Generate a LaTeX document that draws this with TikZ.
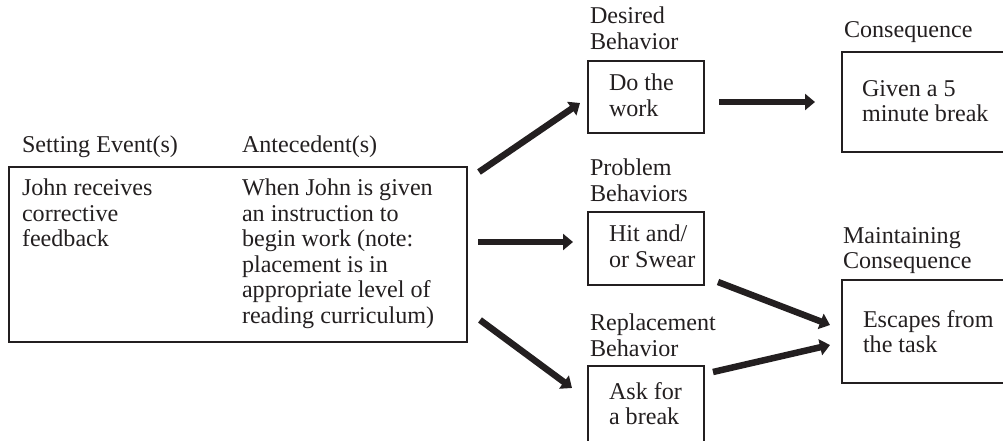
\documentclass[tikz,border=0pt]{standalone}
\usepackage{fontspec}
\setmainfont{Liberation Serif}
\usetikzlibrary{arrows.meta,calc}
\definecolor{ink}{RGB}{35,31,32}
\begin{document}
\begin{tikzpicture}[x=1pt,y=-1pt,
  every node/.style={inner sep=0pt, outer sep=0pt},
  txt/.style={anchor=north west, align=left, text=ink,
    font=\fontsize{24.1}{25.5}\selectfont, execute at begin node=\strut},
  box/.style={draw=ink, line width=1.6pt, anchor=north west},
  arr/.style={draw=ink, line width=6.5pt, -{Triangle[length=10pt,width=16pt]}}]
\clip (0,0) rectangle (1003,441);

% boxes
\node[box, minimum width=458pt, minimum height=175pt] (se)   at (9,167)   {};
\node[box, minimum width=116pt, minimum height=72pt]  (do)   at (588,61)  {};
\node[box, minimum width=116pt, minimum height=73pt]  (hit)  at (588,212) {};
\node[box, minimum width=116pt, minimum height=100pt] (ask)  at (588,366) {};
\node[box, minimum width=180pt, minimum height=100pt] (cons) at (842,52)  {};
\node[box, minimum width=180pt, minimum height=103pt] (esc)  at (842,280) {};

% headings
\node[txt] (lblSetting) at (22,134.15)  {Setting Event(s)};
\node[txt] (lblAnte)    at (242,134.15) {Antecedent(s)};
\node[txt] (lblDesired) at (590,7.15)   {Desired\\Behavior};
\node[txt] (lblProblem) at (590,159.15) {Problem\\Behaviors};
\node[txt] (lblReplace) at (590,314.15) {Replacement\\Behavior};
\node[txt] (lblCons)    at (844,20.15)  {Consequence};
\node[txt] (lblMaint)   at (843,227.15) {Maintaining\\Consequence};

% box contents
\node[txt] (txtSetting) at (22,179.15)  {John receives\\corrective\\feedback};
\node[txt] (txtAnte)    at (242,179.15) {When John is given\\an instruction to\\begin work (note:\\placement is in\\appropriate level of\\reading curriculum)};
\node[txt] (txtDo)      at (609,74.15)  {Do the\\work};
\node[txt] (txtHit)     at (609,225.15) {Hit and/\\or Swear};
\node[txt] (txtAsk)     at (609,382.15) {Ask for\\a break};
\node[txt] (txtCons)    at (862,80.15)  {Given a 5\\minute break};
\node[txt] (txtEsc)     at (863,310.15) {Escapes from\\the task};

% connectors
\draw[arr] ($(se.north east)+(12,5)$)   -- ($(do.west)+(-8,6)$);
\draw[arr] ($(se.east)+(11,-12.5)$)     -- ($(hit.west)+(-15,-6.5)$);
\draw[arr] ($(se.south east)+(13,-22)$) -- ($(ask.north west)+(-16,22)$);
\draw[arr] ($(do.east)+(15,5)$)         -- ($(cons.west)+(-27,0)$);
\draw[arr] ($(hit.south east)+(14,-3)$) -- ($(esc.west)+(-12,-6.5)$);
\draw[arr] ($(ask.north east)+(9,6)$)   -- ($(esc.west)+(-12,13.5)$);
\end{tikzpicture}
\end{document}
